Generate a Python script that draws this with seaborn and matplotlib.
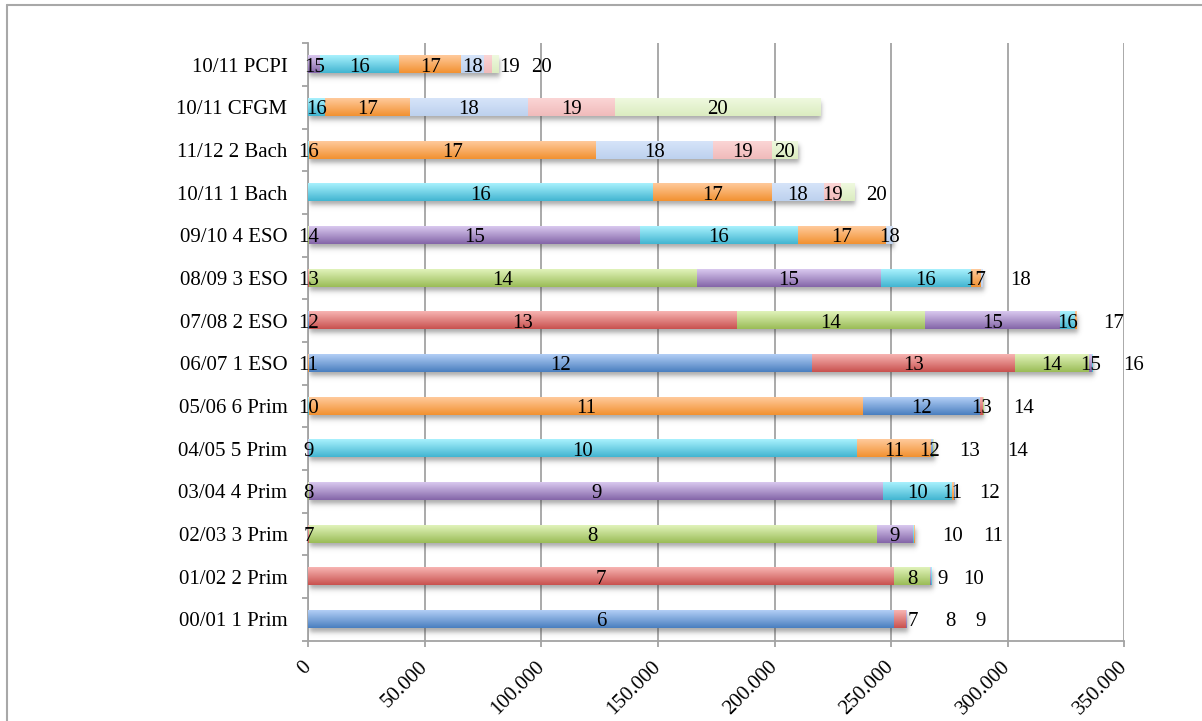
import numpy as np
import pandas as pd
import matplotlib
matplotlib.use("Agg")
import matplotlib.pyplot as plt
import seaborn as sns
from matplotlib.colors import to_rgb
from matplotlib.ticker import FuncFormatter, FixedLocator
from matplotlib.lines import Line2D

# ---------------------------------------------------------------- data
courses = [
    "00/01 1 Prim", "01/02 2 Prim", "02/03 3 Prim", "03/04 4 Prim",
    "04/05 5 Prim", "05/06 6 Prim", "06/07 1 ESO", "07/08 2 ESO",
    "08/09 3 ESO", "09/10 4 ESO", "10/11 1 Bach", "11/12 2 Bach",
    "10/11 CFGM", "10/11 PCPI",
]
ages = list(range(6, 21))

# pupils of each age in every course (aligned with `courses`)
age_6 = [251200, 0, 0, 0, 0, 0, 0, 0, 0, 0, 0, 0, 0, 0]
age_7 = [5000, 251200, 300, 0, 0, 0, 0, 0, 0, 0, 0, 0, 0, 0]
age_8 = [300, 15400, 243400, 300, 0, 0, 0, 0, 0, 0, 0, 0, 0, 0]
age_9 = [200, 600, 15600, 246300, 300, 0, 0, 0, 0, 0, 0, 0, 0, 0]
age_10 = [0, 200, 600, 29600, 234900, 300, 0, 0, 0, 0, 0, 0, 0, 0]
age_11 = [0, 0, 300, 800, 31900, 237600, 300, 0, 0, 0, 0, 0, 0, 0]
age_12 = [0, 0, 0, 200, 800, 50100, 215900, 300, 0, 0, 0, 0, 0, 0]
age_13 = [0, 0, 0, 0, 200, 1200, 86900, 183500, 300, 0, 0, 0, 0, 0]
age_14 = [0, 0, 0, 0, 100, 200, 31600, 80500, 166400, 300, 0, 0, 0, 0]
age_15 = [0, 0, 0, 0, 0, 0, 1500, 58200, 78900, 141900, 0, 0, 0, 5000]
age_16 = [0, 0, 0, 0, 0, 0, 200, 6400, 38600, 67800, 147900, 300, 7200, 34000]
age_17 = [0, 0, 0, 0, 0, 0, 0, 700, 4300, 37800, 50800, 122900, 36400, 26700]
age_18 = [0, 0, 0, 0, 0, 0, 0, 0, 700, 2700, 22400, 50200, 50600, 9700]
age_19 = [0, 0, 0, 0, 0, 0, 0, 0, 0, 0, 7300, 25500, 37200, 3200]
age_20 = [0, 0, 0, 0, 0, 0, 0, 0, 0, 0, 5600, 11000, 88000, 2800]

by_age = {
    6: age_6, 7: age_7, 8: age_8, 9: age_9, 10: age_10, 11: age_11,
    12: age_12, 13: age_13, 14: age_14, 15: age_15, 16: age_16,
    17: age_17, 18: age_18, 19: age_19, 20: age_20,
}

x_ticks = [0, 50000, 100000, 150000, 200000, 250000, 300000, 350000]

# ---------------------------------------------------------------- styling
# (top, bottom) colours of the vertical gradient used for each age
palette = {
    "blue": ("#B2CEF5", "#4A7FC0"),
    "red": ("#F7B4B2", "#C9524F"),
    "green": ("#E0F2BA", "#9BBD57"),
    "purple": ("#D9C8EF", "#8466A8"),
    "aqua": ("#A8F1FD", "#42B5D1"),
    "orange": ("#FFCA9B", "#F29131"),
    "lightblue": ("#D6E4F9", "#BDD1EE"),
    "pink": ("#FBD5D5", "#F0BBBB"),
    "lightgreen": ("#EFF9DF", "#DBECC0"),
}
age_colour = {
    6: "blue", 7: "red", 8: "green", 9: "purple", 10: "aqua", 11: "orange",
    12: "blue", 13: "red", 14: "green", 15: "purple", 16: "aqua", 17: "orange",
    18: "lightblue", 19: "pink", 20: "lightgreen",
}

# age labels that are pushed sideways to avoid overlaps (x in pupils)
label_x = {
    ("00/01 1 Prim", 7): 259300, ("00/01 1 Prim", 8): 275600, ("00/01 1 Prim", 9): 288500,
    ("01/02 2 Prim", 9): 272200, ("01/02 2 Prim", 10): 285500,
    ("02/03 3 Prim", 10): 276400, ("02/03 3 Prim", 11): 293600,
    ("03/04 4 Prim", 11): 276000, ("03/04 4 Prim", 12): 292300,
    ("04/05 5 Prim", 12): 266600, ("04/05 5 Prim", 13): 283700, ("04/05 5 Prim", 14): 304200,
    ("05/06 6 Prim", 13): 288800, ("05/06 6 Prim", 14): 306900,
    ("06/07 1 ESO", 15): 335500, ("06/07 1 ESO", 16): 353800,
    ("07/08 2 ESO", 17): 345200,
    ("08/09 3 ESO", 18): 305500,
    ("10/11 1 Bach", 20): 243700,
    ("10/11 PCPI", 19): 86200, ("10/11 PCPI", 20): 100100,
}

W, H = 1202, 721
GRID = "#A3A3A3"
bar_h = 0.41

sns.set_theme(style="white")
plt.rcParams["font.family"] = ["Liberation Serif", "DejaVu Serif"]
plt.rcParams["text.color"] = "black"

fig = plt.figure(figsize=(W / 100, H / 100), dpi=100)
ax = fig.add_axes([308.3 / W, 1 - 640.7 / H, (1124.4 - 308.3) / W, (640.7 - 43.3) / H])

order = courses[::-1]          # top row first
pos = {c: i for i, c in enumerate(order)}

# ---------------------------------------------------------------- stacked bars
cum = np.zeros(len(courses))
segments = []
for age in ages:
    vals = np.array(by_age[age], dtype=float)
    df = pd.DataFrame({"course": courses, "pupils": vals})
    left_in_order = pd.Series(cum, index=courses).reindex(order).to_numpy()
    top_c, bot_c = palette[age_colour[age]]
    n_before = len(ax.patches)
    sns.barplot(data=df, x="pupils", y="course", order=order, orient="h",
                color=bot_c, saturation=1, left=left_in_order, width=bar_h,
                errorbar=None, linewidth=0, zorder=3, ax=ax)
    for patch in ax.patches[n_before:]:
        w = patch.get_width()
        if w <= 0:
            continue
        x0, y0, h = patch.get_x(), patch.get_y(), patch.get_height()
        t = np.linspace(0, 1, 40)[:, None, None]
        grad = (1 - t) * np.array(to_rgb(top_c)) + t * np.array(to_rgb(bot_c))
        ax.imshow(grad, extent=(x0, x0 + w, y0 + h, y0), origin="upper",
                  aspect="auto", interpolation="bilinear", zorder=3.5)
    for c, v, l in zip(courses, vals, cum):
        if v > 0:
            segments.append((c, age, l, v))
    cum += vals

totals = dict(zip(courses, cum))

# soft drop shadow under each bar
px_x = 350000 / (1124.4 - 308.3)
px_y = 1 / ((640.7 - 43.3) / len(courses))


def window(t, a, b, s):
    return 0.5 * (np.tanh((t - a) / s) - np.tanh((t - b) / s))


for c in courses:
    p = pos[c]
    tot = totals[c]
    xs = np.linspace(-6 * px_x, tot + 10 * px_x, 400)
    ys = np.linspace(p - bar_h / 2, p + bar_h / 2 + 14 * px_y, 60)
    ax_w = window(xs, 1 * px_x, tot + 2 * px_x, 2.5 * px_x)
    ay_w = window(ys, p - bar_h / 2 + 4 * px_y, p + bar_h / 2 + 4 * px_y, 3.0 * px_y)
    alpha = 0.45 * ay_w[:, None] * ax_w[None, :]
    img = np.zeros((len(ys), len(xs), 4))
    img[..., :3] = 0.25
    img[..., 3] = alpha
    ax.imshow(img, extent=(xs[0], xs[-1], ys[-1], ys[0]), origin="upper",
              aspect="auto", interpolation="bilinear", zorder=2)

# age labels
for c, age, l, v in segments:
    x = label_x.get((c, age), l + v / 2)
    ax.text(x, pos[c], str(age), ha="center", va="center_baseline",
            fontsize=15, color="black", zorder=6, clip_on=False)

# ---------------------------------------------------------------- axes
ax.set_xlim(0, 350000)
ax.set_ylim(len(courses) - 0.5, -0.5)
ax.set_xlabel("")
ax.set_ylabel("")

ax.xaxis.set_major_locator(FixedLocator(x_ticks))
ax.xaxis.set_major_formatter(FuncFormatter(lambda v, _: f"{v:,.0f}".replace(",", ".")))
ax.grid(False)
ax.xaxis.grid(True, color=GRID, linewidth=1.3, zorder=0.5)
ax.set_axisbelow(True)

for side in ("top", "right"):
    ax.spines[side].set_visible(False)
for side in ("left", "bottom"):
    ax.spines[side].set_color(GRID)
    ax.spines[side].set_linewidth(1.3)

ax.set_yticks(range(len(order)))
ax.set_yticklabels(order)
ax.yaxis.set_minor_locator(FixedLocator(np.arange(-0.5, len(order), 1.0)))
ax.tick_params(axis="y", which="major", length=0, pad=15, labelsize=15, labelcolor="black")
ax.tick_params(axis="y", which="minor", length=4.5, width=1.3, color=GRID, left=True)
ax.tick_params(axis="x", which="major", length=4.3, width=1.3, color=GRID, bottom=True,
               pad=12.5, labelsize=15, labelcolor="black")
for lab in ax.get_xticklabels():
    lab.set_rotation(45)
    lab.set_ha("right")
    lab.set_va("center")
    lab.set_rotation_mode("anchor")

# chart frame
fig.add_artist(Line2D([7 / W, 7 / W], [0, 1 - 5 / H], transform=fig.transFigure,
                      color="#A8A8A8", linewidth=1.5))
fig.add_artist(Line2D([7 / W, 1], [1 - 5 / H, 1 - 5 / H], transform=fig.transFigure,
                      color="#A8A8A8", linewidth=1.5))

fig.savefig("out.png", dpi=100, facecolor="white")
